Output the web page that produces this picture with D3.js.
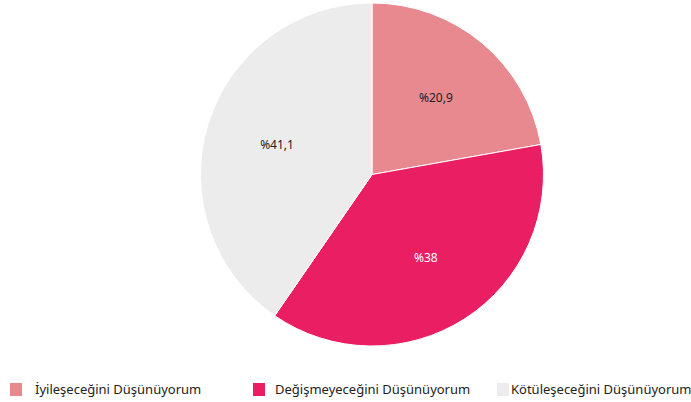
<!DOCTYPE html>
<html>
<head>
<meta charset="utf-8">
<script src="https://cdn.jsdelivr.net/npm/d3@7"></script>
<style>
  body { margin: 0; background: #fff; }
  text { font-family: "Noto Sans", sans-serif; }
</style>
</head>
<body>
<script>
const categories = ["İyileşeceğini Düşünüyorum", "Değişmeyeceğini Düşünüyorum", "Kötüleşeceğini Düşünüyorum"];
const values = [22.2, 37.4, 40.4];
const labels = ["%20,9", "%38", "%41,1"];
const colors = ["#e8888f", "#e91e63", "#ececec"];
const labelColors = ["#222", "#fff", "#222"];

const width = 691, height = 402;
const cx = 372, cy = 174.5, radius = 171.5;

const svg = d3.select("body").append("svg")
    .attr("width", width)
    .attr("height", height);

const pie = d3.pie().sort(null).value(d => d)(values);
const arc = d3.arc().innerRadius(0).outerRadius(radius);
const labelArc = d3.arc().innerRadius(radius * 0.58).outerRadius(radius * 0.58);

const g = svg.append("g").attr("transform", `translate(${cx},${cy})`);

g.selectAll(".slice")
    .data(pie)
    .join("path")
    .attr("class", "slice")
    .attr("d", arc)
    .attr("fill", (d, i) => colors[i])
    .attr("stroke", "#fff")
    .attr("stroke-width", 1);

g.selectAll(".lbl")
    .data(pie)
    .join("text")
    .attr("class", "lbl")
    .attr("transform", d => `translate(${labelArc.centroid(d)})`)
    .attr("text-anchor", "middle")
    .attr("dy", "0.35em")
    .style("font-size", "12px")
    .attr("fill", (d, i) => labelColors[i])
    .text((d, i) => labels[i]);

// legend
const legendX = [10, 253, 497];
const legend = svg.selectAll(".legend")
    .data(categories)
    .join("g")
    .attr("class", "legend")
    .attr("transform", (d, i) => `translate(${legendX[i]},383)`);

legend.append("rect")
    .attr("width", 12)
    .attr("height", 13)
    .attr("fill", (d, i) => colors[i]);

legend.append("text")
    .attr("x", (d, i) => i == 2 ? 14 : (i == 0 ? 25 : 22))
    .attr("y", 6.5)
    .attr("dy", "0.35em")
    .style("font-size", "13px")
    .attr("fill", "#222")
    .text(d => d);
</script>
</body>
</html>
